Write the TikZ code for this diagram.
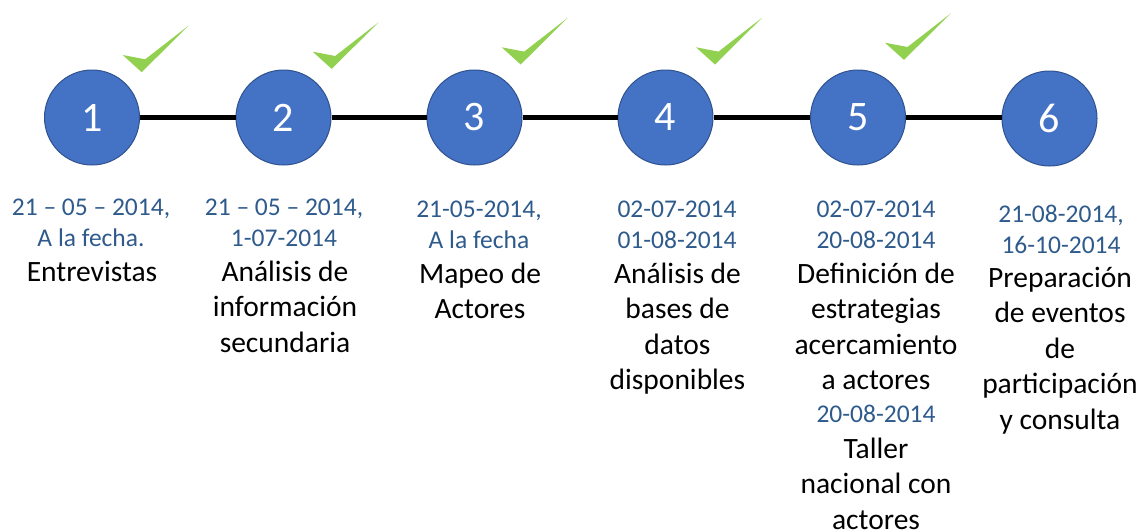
\documentclass[tikz,border=0pt]{standalone}
\usepackage{fontspec}
\setmainfont{Carlito}
\definecolor{circfill}{RGB}{68,114,196}
\definecolor{circline}{RGB}{47,82,143}
\definecolor{datecol}{RGB}{46,90,140}
\definecolor{tickgreen}{RGB}{146,208,80}
\newcommand{\datefont}{\fontsize{25.5}{31}\selectfont\color{datecol}}
\newcommand{\bodyfont}{\fontsize{29.5}{35.6}\selectfont\color{black}}
\newcommand{\blk}[1]{\bodyfont\setlength{\tabcolsep}{0pt}\begin{tabular}[t]{c}#1\end{tabular}}
\newcommand{\dts}[1]{\datefont\setlength{\tabcolsep}{0pt}\begin{tabular}[t]{c}#1\end{tabular}}
\begin{document}
\begin{tikzpicture}[x=1pt,y=-1pt,
  stage/.style={circle,draw=circline,line width=1pt,fill=circfill,minimum size=95pt,inner sep=0pt,
    text=white,font=\fontsize{42}{50}\selectfont},
  link/.style={line width=5.5pt,black},
  txt/.style={anchor=base,inner sep=0pt},
  tick/.pic={\fill[tickgreen] (0,0) -- (22.5,4.3) -- (66,-29.5) -- (19,17.2) -- cycle;}
]
\useasboundingbox (0,0) rectangle (1143,531);
% circles
\node[stage] (c1) at (92,117.5) {1};
\node[stage] (c2) at (283.5,117.5) {2};
\node[stage] (c3) at (474.5,117.5) {3};
\node[stage] (c4) at (665.5,117.5) {4};
\node[stage] (c5) at (858,117.5) {5};
\node[stage] (c6) at (1049.5,118.5) {6};
% connectors
\draw[link] (c1.east) -- (c2.west);
\draw[link] (c2.east) -- (c3.west);
\draw[link] (c3.east) -- (c4.west);
\draw[link] (c4.east) -- (c5.west);
\draw[link] (c5.east) -- (c6.west |- c5.east);
% ticks
\pic at (122.7,55) {tick};
\pic at (312.7,51.7) {tick};
\pic at (501.7,47.3) {tick};
\pic at (696,47.3) {tick};
\pic at (885,42.7) {tick};
% column 1
\node[txt] (d1) at (91,215) {\dts{21 – 05 – 2014,\\A la fecha.}};
\node[txt] (t1) at (92,281) {\blk{Entrevistas}};
% column 2
\node[txt] (d2) at (284,215) {\dts{21 – 05 – 2014,\\1-07-2014}};
\node[txt] (t2) at (285,281) {\blk{Análisis de\\información\\secundaria}};
% column 3
\node[txt] (d3) at (479,217) {\dts{21-05-2014,\\A la fecha}};
\node[txt] (t3) at (480,283) {\blk{Mapeo de\\Actores}};
% column 4
\node[txt] (d4) at (677,217) {\dts{02-07-2014\\01-08-2014}};
\node[txt] (t4) at (677.5,283) {\blk{Análisis de\\bases de\\datos\\disponibles}};
% column 5
\node[txt] (d5) at (876,217) {\dts{02-07-2014\\20-08-2014}};
\node[txt] (t5) at (876,283) {\blk{Definición de\\estrategias\\acercamiento\\a actores}};
\node[txt] (d5b) at (876,422) {\dts{20-08-2014}};
\node[txt] (t5b) at (876,458) {\blk{Taller\\nacional con\\actores}};
% column 6
\node[txt] (d6) at (1061,222) {\dts{21-08-2014,\\16-10-2014}};
\node[txt] (t6) at (1060,287) {\blk{Preparación\\de eventos\\de\\participación\\y consulta}};
\end{tikzpicture}
\end{document}
